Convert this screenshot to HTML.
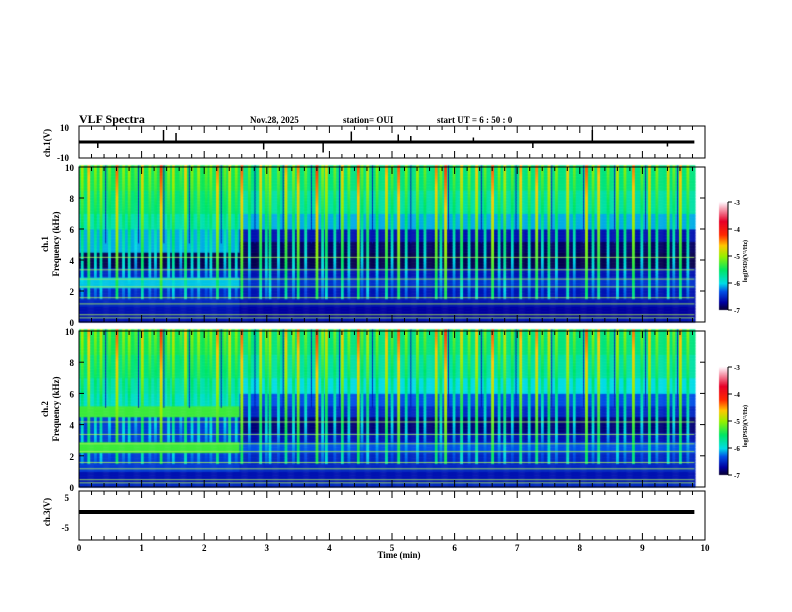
<!DOCTYPE html>
<html><head><meta charset="utf-8"><style>
body{margin:0;background:#fff;}
#wrap{position:relative;width:792px;height:612px;overflow:hidden;background:#fff;font-family:"Liberation Serif",serif;font-weight:bold;}
canvas,svg{position:absolute;left:0;top:0;}
</style></head><body>
<div id="wrap">
<canvas id="cv" width="792" height="612"></canvas>
<svg id="sv" width="792" height="612"></svg>
</div>
<script>
// ---- data ----
const timeEnd = 9.83;               // minutes of data
const switchTime = 2.55;            // time the background changes
const bandTops = [0.3,1.0,2.2,2.9,3.5,4.5,5.2,6.0,7.0,8.5,10.0]; // kHz upper edges
const ch1Before = [-6.6,-6.6,-6.5,-6.05,-6.5,-6.9,-6.1,-6.1,-5.8,-5.6,-5.45];
const ch1After  = [-6.6,-6.7,-6.6,-6.45,-6.6,-6.9,-6.85,-6.6,-6.1,-5.75,-5.6];
const ch2Before = [-6.5,-6.6,-6.4,-5.3,-6.4,-6.4,-5.3,-5.9,-5.8,-5.6,-5.45];
const ch2After  = [-6.5,-6.6,-6.5,-6.3,-6.6,-6.8,-6.5,-6.3,-6.0,-5.75,-5.6];
const spikeTimes = [0.05,0.15,0.25,0.35,0.48,0.6,0.7,0.8,0.9,1.0,1.12,1.22,1.3,1.42,1.5,1.62,1.7,1.8,1.9,2.02,2.1,2.2,2.32,2.4,2.5,2.6,2.72,2.9,2.98,3.05,3.18,3.3,3.42,3.5,3.62,3.8,3.88,3.95,4.08,4.2,4.3,4.45,4.52,4.6,4.75,4.9,5.0,5.1,5.22,5.4,5.52,5.7,5.78,5.85,5.98,6.1,6.22,6.35,6.48,6.6,6.7,6.8,6.92,7.05,7.18,7.3,7.4,7.5,7.62,7.8,7.9,8.1,8.2,8.3,8.45,8.6,8.72,8.85,8.98,9.1,9.22,9.4,9.5,9.6,9.72];
const spikeLevels = [-4.9,-4.5,-5.0,-4.8,-5.1,-4.3,-5.0,-4.9,-5.2,-4.6,-5.0,-5.1,-4.2,-5.0,-4.8,-5.2,-4.6,-5.0,-4.9,-5.1,-5.0,-4.4,-5.1,-4.7,-5.0,-4.3,-5.1,-4.6,-5.0,-4.8,-5.1,-4.5,-5.0,-4.4,-5.1,-4.2,-5.0,-4.7,-5.1,-4.6,-5.0,-4.3,-5.1,-4.8,-5.0,-4.5,-5.1,-4.3,-5.0,-4.9,-5.1,-4.4,-5.0,-4.2,-5.1,-4.7,-5.0,-4.6,-5.1,-4.3,-5.0,-4.8,-5.1,-4.5,-5.0,-4.4,-5.1,-4.7,-5.0,-4.6,-5.1,-4.3,-5.0,-4.5,-5.1,-4.8,-5.0,-4.4,-5.1,-4.6,-5.0,-4.7,-5.1,-4.5,-5.0];
const darkTimes = [0.42,0.95,1.35,1.75,2.27,2.8,3.25,3.7,4.15,4.68,5.3,5.9,6.42,6.98,7.55,8.05,8.55,9.05,9.55];
const lineFreqs = [0.3,0.5,1.2,1.6,2.3,2.8,3.4,4.2];
const ch1TraceSpikes = [0.3,1.35,1.55,2.95,3.9,4.35,5.1,5.3,6.3,7.25,8.2,9.4];
const ch1SpikeAmp    = [-4,8,6,-5,-7,7,5,4,3,-4,8,-3];
const ch3Value = 0;
const xTicks = [0,1,2,3,4,5,6,7,8,9,10];
const freqTicks = [0,2,4,6,8,10];
const cbTicks = [-3,-4,-5,-6,-7];

// ---- geometry ----
const X0=79,X1=705;
const xs=t=>X0+(X1-X0)*t/10;
const P1={top:126,bot:158,vtop:127,vbot:157,vmin:-10,vmax:10};
const S1={top:167,bot:322};
const S2={top:331,bot:487};
const P3={top:491,bot:540,vtop:497,vbot:527,vmin:-5,vmax:5};
const fy=(S,f)=>S.bot-(S.bot-S.top)*f/10;
const vy=(P,v)=>P.vbot-(P.vbot-P.vtop)*(v-P.vmin)/(P.vmax-P.vmin);

const stops=[[-7,[10,0,40]],[-6.7,[0,0,160]],[-6.3,[0,80,230]],[-6.0,[0,220,230]],[-5.5,[0,230,100]],[-5.0,[150,240,0]],[-4.6,[255,200,0]],[-4.2,[255,40,0]],[-3.7,[230,0,40]],[-3,[255,245,250]]];
function cmap(v){
  if(v<=stops[0][0])return stops[0][1];
  for(let i=1;i<stops.length;i++){if(v<=stops[i][0]){const a=stops[i-1],b=stops[i],t=(v-a[0])/(b[0]-a[0]);return a[1].map((c,k)=>Math.round(c+(b[1][k]-c)*t));}}
  return stops[stops.length-1][1];
}
const ctx=document.getElementById('cv').getContext('2d');
function bandLevel(arr,f){for(let i=0;i<bandTops.length;i++)if(f<=bandTops[i])return arr[i];return arr[arr.length-1];}
function drawSpec(S,before,after){
  const dt=0.015,df=0.1;
  for(let t=0;t<timeEnd;t+=dt){
    const arr=t<switchTime?before:after;
    for(let f=0;f<10;f+=df){
      let v=bandLevel(arr,f+df/2);
      for(let k=0;k<spikeTimes.length;k++){
        const d=Math.abs(t-spikeTimes[k]);
        if(d<0.022&&f>1.5){v=Math.max(v,spikeLevels[k]-(10-f)*0.15);}
      }
      for(let k=0;k<darkTimes.length;k++){if(Math.abs(t-darkTimes[k])<0.008&&f>5)v=-6.6;}
      const c=cmap(v);ctx.fillStyle=`rgb(${c[0]},${c[1]},${c[2]})`;
      const x=xs(t),y=fy(S,f+df);
      ctx.fillRect(x,y,xs(t+dt)-x+0.5,fy(S,f)-y+0.5);
    }
  }
  ctx.fillStyle='rgba(170,240,90,0.85)';
  lineFreqs.forEach(f=>ctx.fillRect(X0,fy(S,f),xs(timeEnd)-X0,1));
}
drawSpec(S1,ch1Before,ch1After);
drawSpec(S2,ch2Before,ch2After);
// colorbars
function cbar(y0,y1){for(let y=y0;y<y1;y++){const v=-3-4*(y-y0)/(y1-y0);const c=cmap(v);ctx.fillStyle=`rgb(${c[0]},${c[1]},${c[2]})`;ctx.fillRect(719,y,9,1);}}
cbar(202,310);cbar(367,475);

// ---- svg overlay ----
const svg=document.getElementById('sv');const NS='http://www.w3.org/2000/svg';
function el(tag,attrs,parent){const e=document.createElementNS(NS,tag);for(const k in attrs)e.setAttribute(k,attrs[k]);(parent||svg).appendChild(e);return e;}
function txt(s,x,y,size,anchor,name,rot){const t=el('text',{x:x,y:y,'font-size':size,'text-anchor':anchor||'start','font-family':'Liberation Serif, serif','font-weight':'bold',fill:'#000'});if(rot)t.setAttribute('transform',`rotate(-90 ${x} ${y})`);t.textContent=s;


return t;}
txt('VLF Spectra',79,123,12,'start','chart-title');
txt('Nov.28, 2025',250,123,9,'start','date-label');
txt('station= OUI',343,123,9,'start','station-label');
txt('start  UT =  6 : 50 : 0',437,123,9,'start','start-time-label');

function box(top,bot,name){const r=el('rect',{x:X0,y:top,width:X1-X0,height:bot-top,fill:'none',stroke:'#000','stroke-width':1});


for(let t=0;t<=10.001;t+=0.2){const x=xs(t);const L=Math.abs(t-Math.round(t))<0.01?7:4;el('line',{x1:x,y1:top,x2:x,y2:top+L,stroke:'#000'});el('line',{x1:x,y1:bot,x2:x,y2:bot-L,stroke:'#000'});}}
box(P1.top,P1.bot,'ch1-waveform-panel');
box(S1.top,S1.bot,'ch1-spectrogram-panel');
box(S2.top,S2.bot,'ch2-spectrogram-panel');
box(P3.top,P3.bot,'ch3-waveform-panel');

// ch1 trace
el('rect',{x:X0,y:vy(P1,0)-1.5,width:xs(timeEnd)-X0,height:3,fill:'#000'});
ch1TraceSpikes.forEach((t,i)=>{const l=el('line',{x1:xs(t),x2:xs(t),y1:vy(P1,0),y2:vy(P1,ch1SpikeAmp[i]),stroke:'#000','stroke-width':1.5});

});
// ch3 trace
const c3=el('rect',{x:X0,y:vy(P3,ch3Value)-2,width:xs(timeEnd)-X0,height:4,fill:'#000'});



// y labels
txt('10',69,131,9,'end','ch1-ytick-10');txt('-10',69,161,9,'end','ch1-ytick-neg10');
freqTicks.forEach(f=>{txt(String(f),74,fy(S1,f)+4,9,'end','ch1-freq-tick');txt(String(f),74,fy(S2,f)+4,9,'end','ch2-freq-tick');
[S1,S2].forEach(S=>{el('line',{x1:X0,x2:X0+5,y1:fy(S,f),y2:fy(S,f),stroke:'#000'});el('line',{x1:X1,x2:X1-5,y1:fy(S,f),y2:fy(S,f),stroke:'#000'});});});
txt('5',69,501,9,'end','ch3-ytick-5');txt('-5',69,531,9,'end','ch3-ytick-neg5');
txt('ch.1(V)',50,143,9,'middle','ch1-axis-title',true);
txt('ch.1',48,244,9,'middle','ch1-axis-title-a',true);
txt('Frequency  (kHz)',59,244,9,'middle','ch1-axis-title-b',true);
txt('ch.2',48,409,9,'middle','ch2-axis-title-a',true);
txt('Frequency  (kHz)',59,409,9,'middle','ch2-axis-title-b',true);
txt('ch.3(V)',50,512,9,'middle','ch3-axis-title',true);
xTicks.forEach(t=>txt(String(t),xs(t),551,9,'middle','x-tick-label'));
txt('Time  (min)',399,558,9,'middle','x-axis-title');
// colorbar ticks
[[202,310,'ch1'],[367,475,'ch2']].forEach(([y0,y1,n])=>{
 cbTicks.forEach(v=>{const y=y0+(y1-y0)*(-3-v)/4;el('line',{x1:728,x2:732,y1:y,y2:y,stroke:'#000'});txt(String(v),734,y+3,7,'start',n+'-colorbar-tick');});
 el('line',{x1:728,x2:728,y1:y0,y2:y1,stroke:'#000'});
 txt('log(PSD)(V²/Hz)',747,(y0+y1)/2+5,6,'middle',n+'-colorbar-title',true);
});
</script>
</body></html>
